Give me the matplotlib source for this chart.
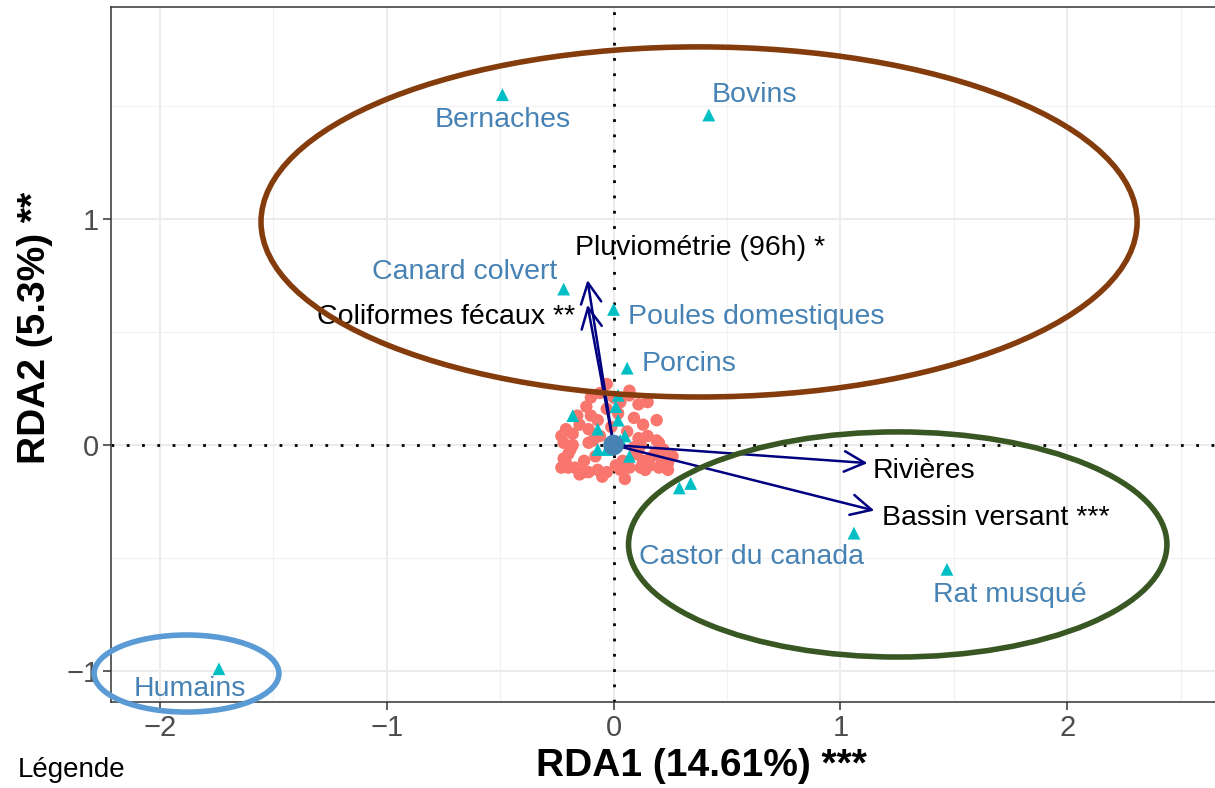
import matplotlib
matplotlib.use('Agg')
import matplotlib.pyplot as plt
from matplotlib.patches import Ellipse
import numpy as np

plt.rcParams['font.family'] = ['Liberation Sans', 'DejaVu Sans']

# sites (red points)
site_x = [-0.03, -0.10, 0.07, 0.07, 0.11, 0.15, 0.03, -0.03, -0.16, -0.10,
          -0.07, -0.15, -0.21, -0.18, -0.11, 0.19, 0.15, 0.11, 0.06, -0.22,
          -0.18, -0.11, 0.20, -0.20, -0.13, 0.10, 0.13, 0.18, 0.22, 0.26,
          0.24, -0.20, -0.23, -0.21, -0.11, -0.07, -0.03, 0.03, 0.07, 0.12,
          0.16, 0.20, -0.13, -0.05, 0.01, 0.11, 0.09, 0.12, -0.06, 0.00,
          -0.19, -0.17, 0.05, 0.14, 0.21, 0.19, -0.06, -0.23, -0.12, 0.02,
          -0.08, 0.04, 0.16, -0.15, 0.09, -0.01, 0.24, -0.22, 0.13, -0.09]
site_y = [0.27, 0.21, 0.24, 0.22, 0.18, 0.19, 0.19, 0.16, 0.13, 0.13,
          0.11, 0.09, 0.07, 0.05, 0.07, 0.11, 0.04, 0.03, 0.06, 0.01,
          0.00, 0.01, 0.01, -0.04, -0.07, -0.04, -0.07, -0.04, -0.02, -0.05,
          -0.08, -0.10, -0.10, -0.08, -0.12, -0.11, -0.12, -0.11, -0.10, -0.10,
          -0.09, -0.10, -0.12, -0.14, -0.09, -0.02, -0.01, 0.00, 0.23, 0.21,
          -0.02, -0.10, -0.15, -0.11, -0.06, 0.02, 0.04, 0.04, 0.17, 0.14,
          -0.05, -0.07, -0.06, -0.13, 0.12, 0.08, -0.11, -0.06, 0.09, 0.02]

# sources (triangles)
src_names = ['Bernaches', 'Bovins', 'Canard colvert', 'Poules domestiques', 'Porcins',
             'Humains', 'Castor du canada', 'Rat musqué',
             '', '', '', '', '', '', '', '', '', '', '', '']
src_x = [-0.49, 0.42, -0.22, 0.00, 0.06, -1.74, 1.06, 1.47,
         0.29, 0.34, -0.18, 0.02, 0.01, 0.02, -0.07, 0.05, -0.07, 0.07, -0.03, 0.03]
src_y = [1.55, 1.46, 0.69, 0.60, 0.34, -0.99, -0.39, -0.55,
         -0.19, -0.17, 0.13, 0.22, 0.17, 0.11, 0.07, 0.04, -0.02, -0.05, -0.02, 0.02]

# environmental vectors
env_names = ['Rivières', 'Bassin versant ***', 'Pluviométrie (96h) *', 'Coliformes fécaux **']
env_x = [1.12, 1.15, -0.115, -0.115]
env_y = [-0.08, -0.29, 0.73, 0.62]

PX = 0.72  # px -> points at dpi 100
src_off = {'Bernaches': (0, -25, 'center'), 'Bovins': (3, 20, 'left'),
           'Canard colvert': (-6, 17, 'right'), 'Poules domestiques': (14, -8, 'left'),
           'Porcins': (14, 4, 'left'), 'Humains': (-29, -20, 'center'),
           'Castor du canada': (10, -24, 'right'), 'Rat musqué': (-14, -26, 'left')}
env_off = [(5, -8, 'left'), (8, -7, 'left'), (-12, 32, 'left'), (-12, -12, 'right')]

fig = plt.figure(figsize=(12.15, 7.88), dpi=100)
ax = fig.add_axes([111 / 1215, 1 - 702 / 788, 1 - 111 / 1215, (702 - 7) / 788])

ax.set_xlim(-2.216, 2.652)
ax.set_ylim(-1.137, 1.938)
ax.set_xticks([-2, -1, 0, 1, 2])
ax.set_yticks([-1, 0, 1])
ax.set_xticklabels(['\u22122', '\u22121', '0', '1', '2'])
ax.set_yticklabels(['\u22121', '0', '1'])
ax.set_xticks([-1.5, -0.5, 0.5, 1.5, 2.5], minor=True)
ax.set_yticks([-0.5, 0.5, 1.5], minor=True)
ax.grid(True, which='major', color='#EBEBEB', lw=1.4)
ax.grid(True, which='minor', color='#F2F2F2', lw=0.9)
ax.set_axisbelow(True)
ax.tick_params(which='major', length=5.5, width=1.1, color='#333333',
               labelsize=21, labelcolor='#4D4D4D', pad=3)
ax.tick_params(which='minor', length=0)
for s in ['left', 'top', 'bottom']:
    ax.spines[s].set_color('#333333')
    ax.spines[s].set_linewidth(1.1)
ax.spines['right'].set_visible(False)

ax.axhline(0, color='black', lw=2, linestyle=(0, (1, 4.5)), zorder=1)
ax.axvline(0, color='black', lw=2, linestyle=(0, (1, 4.5)), zorder=1)

ax.scatter(site_x, site_y, s=80, color='#F8766D', edgecolors='none', zorder=2)
ax.scatter(src_x, src_y, s=85, marker='^', color='#00BFC4', edgecolors='none', zorder=3)

for ex, ey in zip(env_x, env_y):
    ax.annotate('', xy=(ex, ey), xytext=(0, 0),
                arrowprops=dict(arrowstyle='->,head_length=0.7,head_width=0.35',
                                color='#000080', lw=1.8, mutation_scale=21,
                                shrinkA=0, shrinkB=0), zorder=4)
ax.scatter([0], [0], s=220, color='#4682B4', edgecolors='none', zorder=5)

for name, x, y in zip(src_names, src_x, src_y):
    if not name:
        continue
    dx, dy, ha = src_off[name]
    ax.annotate(name, (x, y), xytext=(dx * PX, dy * PX), textcoords='offset points',
                ha=ha, va='center', fontsize=20.5, color='#4682B4', zorder=6)

for name, x, y, (dx, dy, ha) in zip(env_names, env_x, env_y, env_off):
    ax.annotate(name, (x, y), xytext=(dx * PX, dy * PX), textcoords='offset points',
                ha=ha, va='center', fontsize=20.5, color='black', zorder=6)

# hand-drawn group ellipses
ax.add_patch(Ellipse((0.377, 0.987), 3.863, 1.549, fill=False, ec='#843C0C', lw=4,
                     zorder=7, clip_on=False))
ax.add_patch(Ellipse((1.253, -0.440), 2.374, 0.996, fill=False, ec='#385723', lw=4,
                     zorder=7, clip_on=False))
ax.add_patch(Ellipse((-1.883, -1.011), 0.815, 0.341, fill=False, ec='#5B9BD5', lw=4,
                     zorder=7, clip_on=False))

fig.text(701 / 1215, 1 - 766 / 788, 'RDA1 (14.61%) ***', ha='center', va='center',
         fontsize=28, fontweight='bold')
fig.text(35 / 1215, 1 - 328 / 788, 'RDA2 (5.3%) **', ha='center', va='center',
         rotation=90, fontsize=28, fontweight='bold')
fig.text(18 / 1215, 1 - 770 / 788, 'Légende', ha='left', va='center', fontsize=20)

fig.savefig('out.png', dpi=100, facecolor='white')
